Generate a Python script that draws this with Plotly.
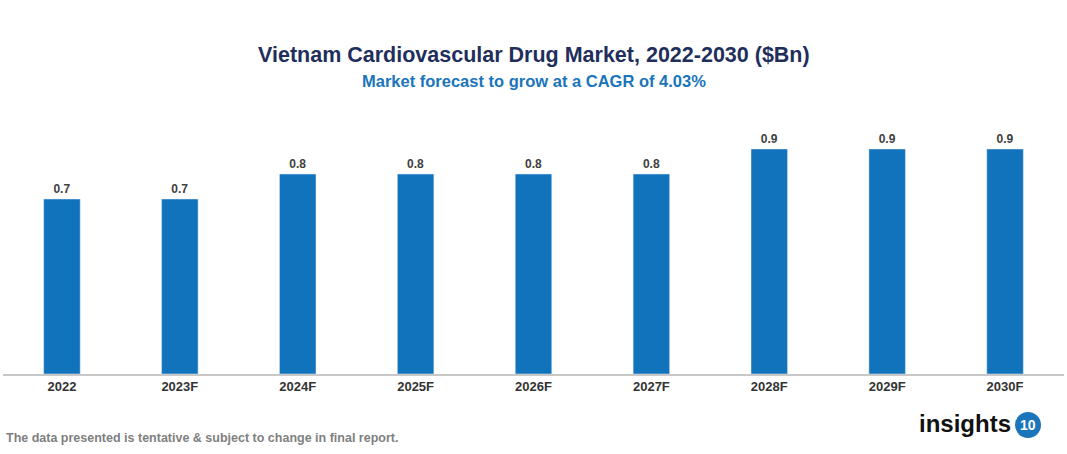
import plotly.graph_objects as go

years = ["2022", "2023F", "2024F", "2025F", "2026F", "2027F", "2028F", "2029F", "2030F"]
values = [0.7, 0.7, 0.8, 0.8, 0.8, 0.8, 0.9, 0.9, 0.9]
labels = ["0.7", "0.7", "0.8", "0.8", "0.8", "0.8", "0.9", "0.9", "0.9"]

W, H = 1067, 454
L, R, T, B = 3, 3, 100, 80
pw, ph = W - L - R, H - T - B

def px(x):
    return (x - L) / pw

def py(y):
    return (H - B - y) / ph

fig = go.Figure(go.Bar(
    x=years, y=values, text=labels, textposition="outside",
    textfont=dict(family="Arial", size=12, color="#404040", weight="bold"),
    marker=dict(color="#1273bd"), cliponaxis=False,
))

fig.update_layout(
    width=W, height=H, margin=dict(l=L, r=R, t=T, b=B),
    paper_bgcolor="white", plot_bgcolor="white",
    bargap=0.69, showlegend=False,
    font=dict(family="Arial"),
    xaxis=dict(showline=True, linecolor="#c8c8c8", linewidth=1.5, ticks="",
               tickfont=dict(family="Arial", size=13, color="#333333", weight="bold"),
               showgrid=False),
    yaxis=dict(visible=False, range=[0, ph / 250], showgrid=False),
    annotations=[
        dict(text="<b>Vietnam Cardiovascular Drug Market, 2022-2030 ($Bn)</b>",
             x=px(534), y=py(55), xref="paper", yref="paper", showarrow=False,
             font=dict(family="Arial", size=21.5, color="#1f2f5c"), xanchor="center", yanchor="middle"),
        dict(text="<b>Market forecast to grow at a CAGR of 4.03%</b>",
             x=px(534), y=py(81), xref="paper", yref="paper", showarrow=False,
             font=dict(family="Arial", size=16.5, color="#1a75bb"), xanchor="center", yanchor="middle"),
        dict(text="<b>The data presented is tentative &amp; subject to change in final report.</b>",
             x=px(4), y=py(438), xref="paper", yref="paper", showarrow=False,
             font=dict(family="Arial", size=12.5, color="#7f7f7f"), xanchor="left", yanchor="middle"),
        dict(text="<b>insights</b>",
             x=px(1013), y=py(423), xref="paper", yref="paper", showarrow=False,
             font=dict(family="Arial", size=24, color="#111111"), xanchor="right", yanchor="middle"),
        dict(text="<b>10</b>",
             x=px(1028), y=py(425), xref="paper", yref="paper", showarrow=False,
             font=dict(family="Arial", size=14, color="white"), xanchor="center", yanchor="middle"),
    ],
    shapes=[
        dict(type="circle", xref="paper", yref="paper",
             x0=px(1015), x1=px(1041), y0=py(438), y1=py(412),
             fillcolor="#1a75bb", line=dict(width=0), layer="below"),
    ],
)

fig.write_html("out.html", config={"displayModeBar": False},
               post_script="document.body.style.margin='0';")
